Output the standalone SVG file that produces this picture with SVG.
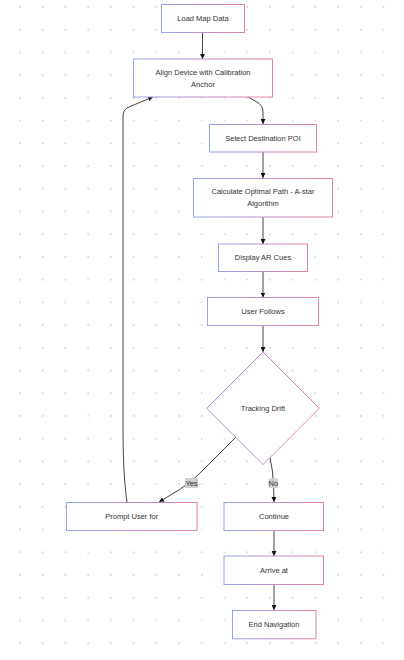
<svg xmlns="http://www.w3.org/2000/svg" width="404" height="660" viewBox="0 0 404 660">
  <defs>
    <pattern id="dots" x="20" y="7" width="22.72" height="22.72" patternUnits="userSpaceOnUse">
      <circle cx="0" cy="0" r="1" fill="#d4d4d4"/>
      <circle cx="22.72" cy="0" r="1" fill="#d4d4d4"/>
      <circle cx="0" cy="22.72" r="1" fill="#d4d4d4"/>
      <circle cx="22.72" cy="22.72" r="1" fill="#d4d4d4"/>
    </pattern>
    <linearGradient id="edgeGrad" x1="0" y1="0" x2="1" y2="0">
      <stop offset="0" stop-color="#94a3ea"/>
      <stop offset="1" stop-color="#e880a6"/>
    </linearGradient>
    <marker id="arrow" viewBox="0 0 10 10" refX="10" refY="5" markerWidth="5" markerHeight="5" orient="auto" markerUnits="userSpaceOnUse">
      <path d="M0,0 L10,5 L0,10 z" fill="#111"/>
    </marker>
    <style>
      .node rect, .node polygon { fill: #ffffff; stroke: url(#edgeGrad); stroke-width: 1; }
      .node text { font-family: "Liberation Sans", Arial, sans-serif; font-size: 7.5px; fill: #333; text-anchor: middle; dominant-baseline: central; }
      .edge { fill: none; stroke: #444; stroke-width: 1; marker-end: url(#arrow); }
      .lbl rect { fill: #cfcfcf; }
      .lbl text { font-family: "Liberation Sans", Arial, sans-serif; font-size: 7.5px; fill: #333; text-anchor: middle; dominant-baseline: central; }
    </style>
  </defs>

  <rect width="404" height="660" fill="#ffffff"/>
  <rect width="404" height="660" fill="url(#dots)"/>

  <!-- connectors -->
  <g id="connectors">
    <path class="edge" d="M202.5,32.5 L202.5,59"/>
    <path class="edge" d="M248,97 L257,102 Q263,105.5 263,112 L263,124"/>
    <path class="edge" d="M263,152 L263,178"/>
    <path class="edge" d="M263,217 L263,244"/>
    <path class="edge" d="M263,271.5 L263,297.5"/>
    <path class="edge" d="M263,325.5 L263,352"/>
    <path class="edge" d="M236,437 L201,472 Q191,483 178,490.5 L159,502"/>
    <path class="edge" d="M270,458 Q273,470 273.6,485 L274,502"/>
    <path class="edge" d="M127,502 C124,480 123,460 123,420 L123,116 Q123,109 130,106.5 L153,97"/>
    <path class="edge" d="M274,530.5 L274,556"/>
    <path class="edge" d="M274,584.5 L274,610"/>
    <g class="lbl">
      <rect x="185" y="478" width="13" height="10"/>
      <text x="191.5" y="483">Yes</text>
      <rect x="268.5" y="478.5" width="9.5" height="9.5"/>
      <text x="273.3" y="483.2">No</text>
    </g>
  </g>

  <!-- nodes -->
  <g id="load" class="node">
    <rect x="161.5" y="4.5" width="83" height="28"/>
    <text x="203" y="18.5">Load Map Data</text>
  </g>
  <g id="align" class="node">
    <rect x="133.5" y="59" width="139" height="38"/>
    <text x="203" y="72.5">Align Device with Calibration</text>
    <text x="203" y="84">Anchor</text>
  </g>
  <g id="select" class="node">
    <rect x="209.5" y="124.5" width="107" height="27.5"/>
    <text x="263" y="138.3">Select Destination POI</text>
  </g>
  <g id="calculate" class="node">
    <rect x="193.5" y="178.5" width="139" height="38.5"/>
    <text x="263" y="191.7">Calculate Optimal Path - A-star</text>
    <text x="263" y="203.5">Algorithm</text>
  </g>
  <g id="display" class="node">
    <rect x="218.5" y="244" width="89" height="27.5"/>
    <text x="263" y="257.7">Display AR Cues</text>
  </g>
  <g id="follows" class="node">
    <rect x="207.5" y="297.5" width="111" height="28"/>
    <text x="263" y="311.5">User Follows</text>
  </g>
  <g id="drift" class="node">
    <polygon points="263,352 319.3,408.3 263,464.5 206.7,408.3"/>
    <text x="263" y="408.3">Tracking Drift</text>
  </g>
  <g id="prompt" class="node">
    <rect x="66.5" y="502.5" width="130.5" height="28"/>
    <text x="131.7" y="516.5">Prompt User for</text>
  </g>
  <g id="continue" class="node">
    <rect x="224" y="502.5" width="99.5" height="28"/>
    <text x="274" y="516.5">Continue</text>
  </g>
  <g id="arrive" class="node">
    <rect x="224" y="556" width="99.5" height="28.5"/>
    <text x="274" y="570.2">Arrive at</text>
  </g>
  <g id="end" class="node">
    <rect x="232.5" y="610.5" width="83.5" height="28.3"/>
    <text x="274" y="624.6">End Navigation</text>
  </g>
</svg>
